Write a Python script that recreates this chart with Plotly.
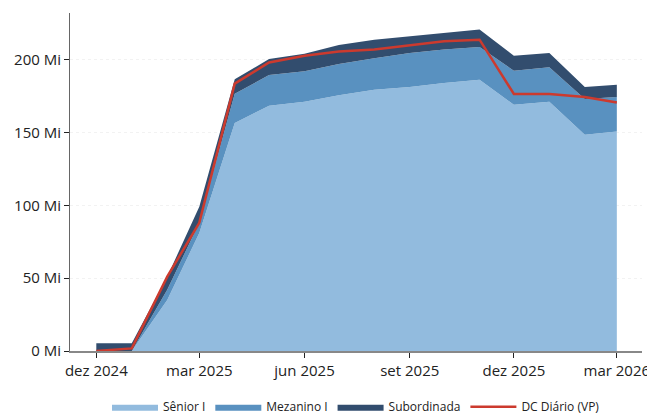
import plotly.graph_objects as go

dates = ["2024-12-01", "2025-01-01", "2025-02-01", "2025-03-01", "2025-04-01", "2025-05-01",
         "2025-06-01", "2025-07-01", "2025-08-01", "2025-09-01", "2025-10-01", "2025-11-01",
         "2025-12-01", "2026-01-01", "2026-02-01", "2026-03-01"]
senior = [0, 0, 35, 81, 156.5, 168.4, 171, 175.5, 179.4, 181.2, 184, 186.2, 169, 171, 148.4, 150.7]
mezanino = [0, 0, 7, 7, 20, 21, 21, 21.5, 21.6, 23.4, 23, 22.5, 23.4, 23.7, 24.6, 23.6]
subordinada = [5.3, 5.3, 9, 11, 10, 11, 12, 13, 12.7, 11.4, 11.4, 11.9, 10.3, 9.9, 8.2, 8.5]
dc_diario = [0, 1.8, 51, 88, 183.5, 198, 202.7, 205.5, 206.9, 209.6, 212.6, 213.7, 176.4, 176.4, 174.3, 170.6]

y_ticks = [0, 50, 100, 150, 200]
x_ticks = ["2024-12-01", "2025-03-01", "2025-06-01", "2025-09-01", "2025-12-01", "2026-03-01"]
x_ticklabels = ["dez 2024", "mar 2025", "jun 2025", "set 2025", "dez 2025", "mar 2026"]

fig = go.Figure()
for name, vals, col in [("Sênior I", senior, "#92BBDE"),
                        ("Mezanino I", mezanino, "#5991C0"),
                        ("Subordinada", subordinada, "#324D6E")]:
    fig.add_trace(go.Scatter(x=dates, y=vals, name=name, stackgroup="one", mode="lines",
                             line=dict(width=0, color=col), fillcolor=col))
fig.add_trace(go.Scatter(x=dates, y=dc_diario, name="DC Diário (VP)", mode="lines",
                         line=dict(color="#CC3A2E", width=2.5)))

fig.update_layout(
    width=647, height=414,
    margin=dict(l=70, r=5, t=13, b=63, autoexpand=False),
    paper_bgcolor="white", plot_bgcolor="white",
    font=dict(family="Open Sans", size=15, color="#222"),
    legend=dict(orientation="h", x=0.5, xanchor="center", y=-0.122, yanchor="top",
                font=dict(size=12), traceorder="normal", itemwidth=46),
    showlegend=True,
)
fig.update_xaxes(type="date", range=["2024-11-08", "2026-03-23"],
                 tickvals=x_ticks, ticktext=x_ticklabels, ticklabeloverflow="allow",
                 showline=True, linecolor="#888", linewidth=1.5,
                 ticks="outside", ticklen=5, tickcolor="#222",
                 showgrid=False, zeroline=False, automargin=False)
fig.update_yaxes(range=[0, 232], tickvals=y_ticks, ticktext=[f"{v} Mi" for v in y_ticks],
                 showline=True, linecolor="#666", linewidth=1,
                 ticks="outside", ticklen=5, tickcolor="#222",
                 showgrid=True, gridcolor="#f2f2f2", gridwidth=1, griddash="dot",
                 zeroline=False, automargin=False)

fig.write_html("out.html", config={"displayModeBar": False},
               post_script="document.body.style.margin='0';document.body.style.overflow='hidden';")
